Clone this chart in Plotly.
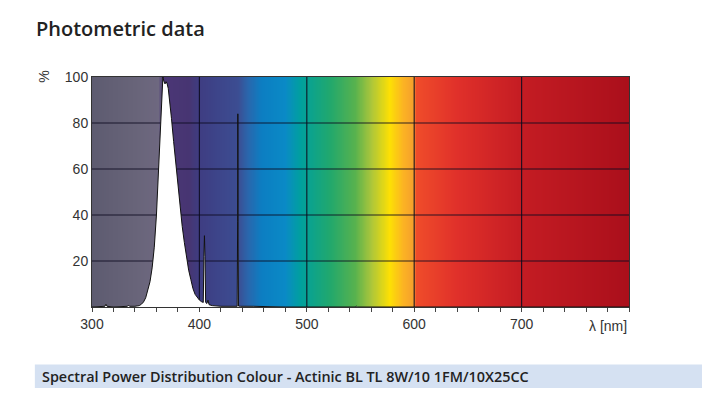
import plotly.graph_objects as go
import numpy as np

# ---- data ----
wavelength = [300, 310, 312, 313, 314, 320, 330, 333, 334, 335, 340, 344, 346, 348, 350, 352, 354,
              356, 358, 360, 362, 364, 365.5, 366, 367, 368, 369, 370, 371, 372, 374, 376, 378,
              380, 382, 384, 386, 388, 390, 392, 394, 396, 398, 400, 402, 403.6, 404.2, 404.7,
              405.2, 405.8, 407, 408, 409, 412, 420, 430, 435.2, 435.6, 435.8, 436.0, 436.4, 438,
              450, 460, 480, 545, 546, 547, 560, 800]
power = [0, 0, 0.3, 1.2, 0.3, 0, 0.2, 0.3, 0.8, 0.3, 0.3, 0.6, 1.2, 2.2, 4, 7, 11,
         17, 26, 40, 60, 80, 94, 100, 98, 97, 98, 97, 95, 91, 82, 72, 62,
         53, 43, 35, 28, 21, 16, 12, 8, 5.5, 4, 3, 2.3, 2, 22, 31,
         22, 2, 1.5, 3, 1, 0.6, 0.3, 0.3, 0.3, 37, 84, 37, 0.4, 0.3,
         0.3, 0.1, 0, 0, 0.4, 0, 0, 0]

x_ticks = [300, 400, 500, 600, 700]
y_ticks = [20, 40, 60, 80, 100]

# background spectrum colours by wavelength
bg_stops = [300, 340, 362, 366, 390, 400, 436, 445, 458, 480, 494, 522, 545, 560, 577, 590, 599, 602, 640, 700, 800]
bg_colors = ["#5d5b70", "#686479", "#6e6880", "#4b3776", "#473572", "#3e3d82", "#3c4d92",
             "#2a66ac", "#0c7ec2", "#0a8ac6", "#00a09e", "#22a86c", "#58b24e", "#acc63a", "#fde004",
             "#fbb224", "#f5a02c", "#ef4c2a", "#e0302a", "#c41c23", "#aa0f1b"]

xmin, xmax = 300, 800
cs = [[(w - xmin) / (xmax - xmin), c] for w, c in zip(bg_stops, bg_colors)]
xs = np.arange(xmin, xmax + 0.5, 0.5)

fig = go.Figure()
fig.add_trace(go.Heatmap(x=xs, y=[0, 100], z=[xs, xs], colorscale=cs, zmin=xmin, zmax=xmax,
                         showscale=False, hoverinfo="skip"))

# grid lines (above gradient, below curve)
gx, gy = [], []
for t in x_ticks[1:]:
    gx += [t, t, None]
    gy += [0, 100, None]
for t in y_ticks[:-1]:
    gx += [xmin, xmax, None]
    gy += [t, t, None]
fig.add_trace(go.Scatter(x=gx, y=gy, mode="lines", line=dict(color="rgba(12,10,30,0.85)", width=1.2),
                         hoverinfo="skip", showlegend=False))

fig.add_trace(go.Scatter(x=wavelength, y=power, mode="lines", fill="tozeroy", fillcolor="white",
                         line=dict(color="#111111", width=1), showlegend=False))

fig.update_layout(
    width=702, height=406,
    margin=dict(l=92, r=73, t=77, b=99),
    paper_bgcolor="white", plot_bgcolor="white",
    showlegend=False,
    font=dict(family="Liberation Sans, Arial, sans-serif", size=14, color="#333333"),
    xaxis=dict(range=[xmin, xmax], tickvals=x_ticks, ticks="outside", ticklen=4, tickcolor="#444",
               showgrid=False, zeroline=False, showline=True, linecolor="#333", linewidth=1, mirror=True,
               minor=dict(dtick=20, tick0=300, ticks="outside", ticklen=4, tickcolor="#444", showgrid=False),
               tickfont=dict(size=14, color="#333")),
    yaxis=dict(range=[0, 100], tickvals=y_ticks, ticks="", showgrid=False, zeroline=False,
               showline=True, linecolor="#333", linewidth=1, mirror=True,
               tickfont=dict(size=14, color="#333")),
)

fig.add_annotation(text="λ [nm]", xref="x", yref="paper", x=780, y=0, yshift=-19, yanchor="middle",
                   showarrow=False, font=dict(size=14, color="#333"))
fig.add_annotation(text="%", xref="paper", yref="paper", x=-0.09, y=1.0, textangle=-90,
                   xanchor="center", yanchor="middle", showarrow=False, font=dict(size=14, color="#333"))
fig.add_annotation(text="Photometric data", xref="paper", yref="paper", x=-0.108, y=1.213,
                   xanchor="left", yanchor="middle", showarrow=False,
                   font=dict(family="Open Sans, sans-serif", size=20, color="#222", weight=600))

# footer bar
fig.add_shape(type="rect", xref="paper", yref="paper", x0=-0.1064, x1=1.1359, y0=-0.2496, y1=-0.3522,
              fillcolor="#d5e1f2", line=dict(width=0), layer="below")
fig.add_annotation(text="Spectral Power Distribution Colour - Actinic BL TL 8W/10 1FM/10X25CC",
                   xref="paper", yref="paper", x=-0.096, y=-0.30, xanchor="left", yanchor="middle",
                   showarrow=False, font=dict(family="Open Sans, sans-serif", size=14.4, color="#222", weight=600))

fig.write_html("out.html")
